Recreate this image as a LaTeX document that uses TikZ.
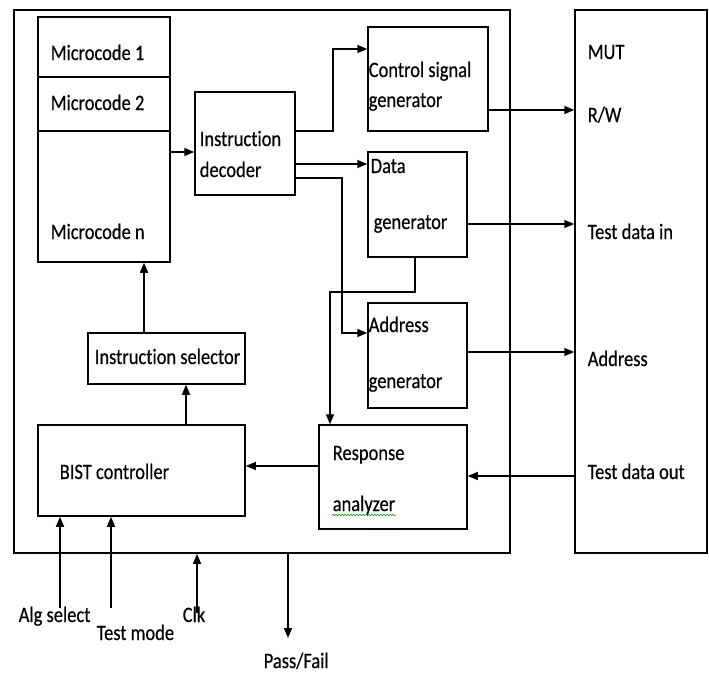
\documentclass[tikz,border=0pt]{standalone}
\usepackage{fontspec}
\setmainfont{Carlito}[FakeStretch=0.84,FakeBold=0.4,Ligatures={NoCommon}]
\usetikzlibrary{arrows.meta,decorations.pathmorphing}
\begin{document}
\begin{tikzpicture}[x=1pt,y=-1pt,
  line width=1.5pt,
  blk/.style={draw, rectangle, inner sep=0pt},
  lbl/.style={anchor=base west, inner sep=0pt, font=\fontsize{22pt}{26pt}\selectfont},
  arr/.style={-{Triangle[length=10pt,width=8pt]}}
]
\useasboundingbox (0,0) rectangle (709,675);

% enclosing blocks
\node[blk, minimum width=496pt, minimum height=543pt] (bist) at (262,281.5) {};
\node[blk, minimum width=132pt, minimum height=543pt] (mut) at (641,281.5) {};

% microcode store
\node[blk, minimum width=132pt, minimum height=60pt] (mc1) at (104,47) {};
\node[blk, minimum width=132pt, minimum height=54pt] (mc2) at (104,104) {};
\node[blk, minimum width=132pt, minimum height=131pt] (mcn) at (104,196.5) {};

% functional blocks
\node[blk, minimum width=100pt, minimum height=103pt] (dec) at (245,143.5) {};
\node[blk, minimum width=120pt, minimum height=104pt] (ctl) at (428,79) {};
\node[blk, minimum width=99pt, minimum height=105pt] (dat) at (417.5,204.5) {};
\node[blk, minimum width=99pt, minimum height=105pt] (adr) at (417.5,355.5) {};
\node[blk, minimum width=148pt, minimum height=104pt] (resp) at (393,477) {};
\node[blk, minimum width=207pt, minimum height=91pt] (bistc) at (141.5,470.5) {};
\node[blk, minimum width=157pt, minimum height=51pt] (sel) at (166.5,358.5) {};

% texts
\node[lbl] (t1) at (50,60) {Microcode 1};
\node[lbl] (t2) at (50,110) {Microcode 2};
\node[lbl] (tn) at (50,239) {Microcode n};
\node[lbl] (td1) at (199,146) {Instruction};
\node[lbl] (td2) at (199,177) {decoder};
\node[lbl] (tc1) at (368,77) {Control signal};
\node[lbl] (tc2) at (368,107) {generator};
\node[lbl] (tg1) at (370,173) {Data};
\node[lbl] (tg2) at (373,229) {generator};
\node[lbl] (ta1) at (368,332) {Address};
\node[lbl] (ta2) at (368,388) {generator};
\node[lbl] (tr1) at (332,460) {Response};
\node[lbl] (anl) at (332,511) {analyzer};
\node[lbl] (tb) at (59,479) {BIST controller};
\node[lbl] (ts) at (94,364) {Instruction selector};
\node[lbl] (tm) at (587,59) {MUT};
\node[lbl] (trw) at (587,122) {R/W};
\node[lbl] (tdi) at (587,239) {Test data in};
\node[lbl] (tad) at (587,366) {Address};
\node[lbl] (tdo) at (587,479) {Test data out};
\node[lbl] (talg) at (18,622) {Alg select};
\node[lbl] (ttm) at (96,640) {Test mode};
\node[lbl] (tclk) at (182,622) {Clk};
\node[lbl] (tpf) at (263,668) {Pass/Fail};

% spell-check underline
\draw[green!65!black, line width=0.6pt, decorate,
      decoration={snake, amplitude=0.8pt, segment length=3pt}]
  ([yshift=-4pt]anl.base west) -- ([yshift=-4pt]anl.base east);

% free ends of the external signals
\coordinate (algin) at (60,608);
\coordinate (tmin) at (111,608);
\coordinate (clkin) at (197,613);
\coordinate (pfout) at (288,638);

% connectors
\draw[arr] (mcn.east |- 0,152) -- (dec.west |- 0,152);
\draw[arr] (dec.east |- 0,131) -- ++(37,0) |- (ctl.west |- 0,49);
\draw[arr] (dec.east |- 0,164) -- (dat.west |- 0,164);
\draw[arr] (dec.east |- 0,178) -- ++(46,0) |- (adr.west |- 0,333);
\draw[arr] (dat.south -| 415,0) |- (330,292) -- (resp.north -| 330,0);
\draw[arr] (resp.west |- 0,466) -- (bistc.east |- 0,466);
\draw[arr] (bistc.north -| 186,0) -- (sel.south -| 186,0);
\draw[arr] (sel.north -| 144,0) -- (mcn.south -| 144,0);
\draw[arr] (ctl.east |- 0,110) -- (mut.west |- 0,110);
\draw[arr] (dat.east |- 0,224) -- (mut.west |- 0,224);
\draw[arr] (adr.east |- 0,352) -- (mut.west |- 0,352);
\draw[arr] (mut.west |- 0,476) -- (resp.east |- 0,476);
\draw[arr] (algin) -- (bistc.south -| algin);
\draw[arr] (tmin) -- (bistc.south -| tmin);
\draw[arr] (clkin) -- (bist.south -| clkin);
\draw[arr] (bist.south -| pfout) -- (pfout);
\end{tikzpicture}
\end{document}
